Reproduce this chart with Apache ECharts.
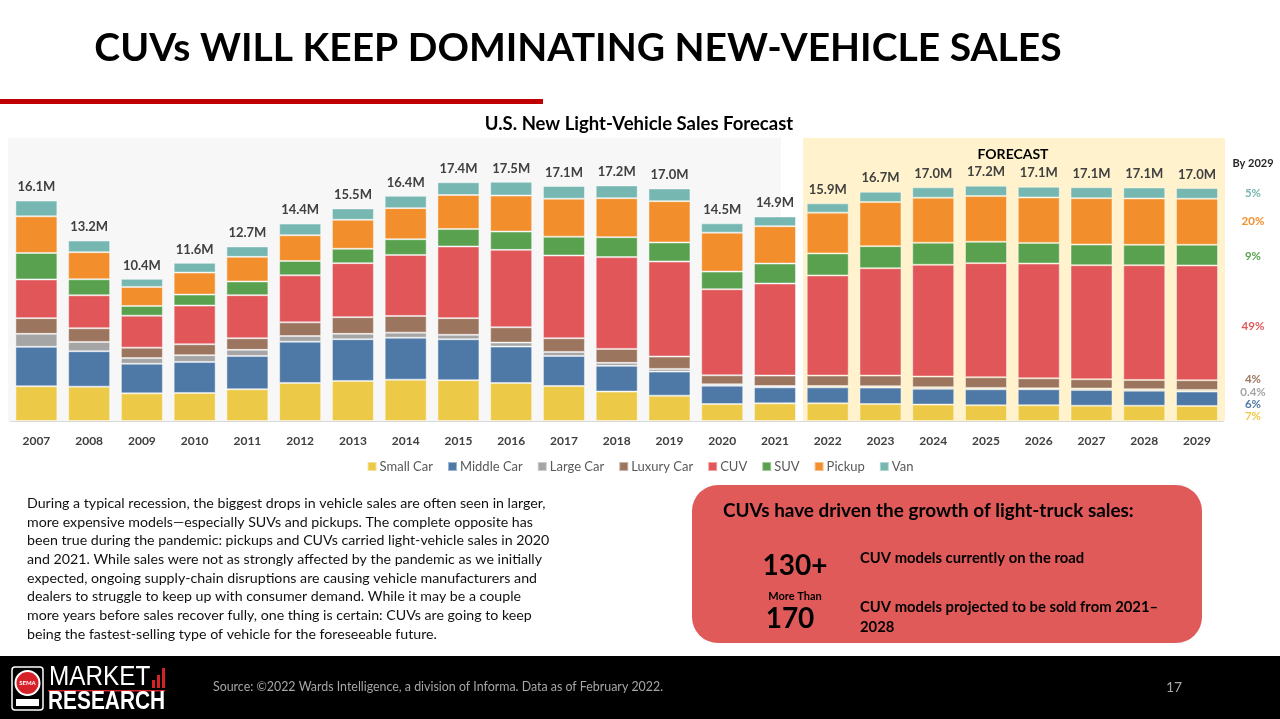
<!DOCTYPE html>
<html>
<head>
<meta charset="utf-8">
<script src="https://cdn.jsdelivr.net/npm/echarts@6/dist/echarts.min.js"></script>
<style>
html,body{margin:0;padding:0;background:#fff;}
#c{width:1280px;height:719px;}
</style>
</head>
<body>
<div id="c"></div>
<script>
const years = ['2007','2008','2009','2010','2011','2012','2013','2014','2015','2016','2017','2018','2019','2020','2021','2022','2023','2024','2025','2026','2027','2028','2029'];
const smallCar  = [2.54,2.51,2.02,2.05,2.32,2.78,2.93,3.02,2.98,2.78,2.56,2.15,1.85,1.24,1.29,1.29,1.24,1.20,1.15,1.15,1.12,1.12,1.10];
const middleCar = [2.88,2.59,2.17,2.27,2.44,3.02,3.05,3.07,3.00,2.66,2.20,1.88,1.76,1.34,1.17,1.17,1.20,1.15,1.17,1.17,1.15,1.10,1.05];
const largeCar  = [0.95,0.68,0.41,0.49,0.44,0.41,0.39,0.37,0.32,0.29,0.29,0.22,0.20,0.10,0.10,0.10,0.10,0.12,0.10,0.07,0.10,0.10,0.12];
const luxuryCar = [1.15,1.00,0.76,0.80,0.85,1.00,1.22,1.22,1.22,1.12,1.00,1.02,0.90,0.66,0.76,0.76,0.78,0.78,0.78,0.73,0.68,0.68,0.71];
const cuv       = [2.83,2.41,2.34,2.83,3.15,3.44,3.95,4.46,5.24,5.66,6.05,6.71,6.95,6.29,6.73,7.32,7.85,8.17,8.34,8.39,8.34,8.39,8.39];
const suv       = [1.93,1.17,0.71,0.80,1.00,1.05,1.05,1.15,1.27,1.34,1.37,1.46,1.39,1.29,1.46,1.61,1.61,1.61,1.56,1.51,1.51,1.49,1.51];
const pickup    = [2.68,1.98,1.39,1.61,1.80,1.88,2.12,2.27,2.49,2.63,2.78,2.85,3.02,2.85,2.73,2.98,3.22,3.29,3.34,3.32,3.39,3.39,3.37];
const van       = [1.15,0.85,0.59,0.71,0.76,0.85,0.83,0.90,0.93,1.00,0.93,0.93,0.93,0.68,0.71,0.68,0.76,0.76,0.76,0.78,0.80,0.80,0.78];
const totals    = ['16.1M','13.2M','10.4M','11.6M','12.7M','14.4M','15.5M','16.4M','17.4M','17.5M','17.1M','17.2M','17.0M','14.5M','14.9M','15.9M','16.7M','17.0M','17.2M','17.1M','17.1M','17.1M','17.0M'];
const seriesNames = ['Small Car','Middle Car','Large Car','Luxury Car','CUV','SUV','Pickup','Van'];
const share2029 = ['7%','6%','0.4%','4%','49%','9%','20%','5%'];

const colors = ['#EDC948','#4E79A7','#A5A5A5','#9C755F','#E15759','#59A14F','#F28E2B','#76B7B2'];
const seriesData = [smallCar,middleCar,largeCar,luxuryCar,cuv,suv,pickup,van];
const F = 'Lato, "Open Sans", sans-serif';

const chart = echarts.init(document.getElementById('c'), null, {renderer:'canvas'});

const series = seriesNames.map((n,i)=>{
  const s = {
    name:n, type:'bar', stack:'total', data:seriesData[i], barWidth:42,
    itemStyle:{color:colors[i], borderColor:'rgba(255,255,255,0.45)', borderWidth:1},
    emphasis:{disabled:true}
  };
  if(i===seriesNames.length-1){
    s.label = {show:true, position:'top', distance:7, formatter:p=>totals[p.dataIndex],
      fontFamily:F, fontWeight:'bold', fontSize:13, color:'#404040'};
  }
  return s;
});

// layout for 2029 share labels (pixel y positions, decoration)
const shareY = [416,404,392,379,326,256,221,193];

const paragraph = [
 'During a typical recession, the biggest drops in vehicle sales are often seen in larger,',
 'more expensive models\u2014especially SUVs and pickups. The complete opposite has',
 'been true during the pandemic: pickups and CUVs carried light-vehicle sales in 2020',
 'and 2021. While sales were not as strongly affected by the pandemic as we initially',
 'expected, ongoing supply-chain disruptions are causing vehicle manufacturers and',
 'dealers to struggle to keep up with consumer demand. While it may be a couple',
 'more years before sales recover fully, one thing is certain: CUVs are going to keep',
 'being the fastest-selling type of vehicle for the foreseeable future.'
].join('\n');

const graphics = [
  // panel backgrounds
  {type:'rect', z:-10, shape:{x:8,y:138,width:773,height:283}, style:{fill:'#F7F7F7'}},
  {type:'rect', z:-10, shape:{x:803,y:138,width:422,height:283}, style:{fill:'#FFF2CC'}},
  // title & red rule
  {type:'text', x:578, y:48, style:{text:'CUVs WILL KEEP DOMINATING NEW-VEHICLE SALES', fontFamily:F, fontWeight:'bold', fontSize:39, fill:'#000', align:'center', verticalAlign:'middle'}},
  {type:'rect', shape:{x:0,y:99,width:543,height:5}, style:{fill:'#C00000'}},
  {type:'text', x:639, y:124, style:{text:'U.S. New Light-Vehicle Sales Forecast', fontFamily:F, fontWeight:'bold', fontSize:18.5, fill:'#000', align:'center', verticalAlign:'middle'}},
  {type:'text', x:1013, y:154, style:{text:'FORECAST', fontFamily:F, fontWeight:'bold', fontSize:14, fill:'#000', align:'center', verticalAlign:'middle'}},
  {type:'text', x:1253, y:163, style:{text:'By 2029', fontFamily:F, fontWeight:'bold', fontSize:11, fill:'#262626', align:'center', verticalAlign:'middle'}},
  // paragraph
  {type:'text', x:27, y:494, style:{text:paragraph, fontFamily:F, fontSize:14.2, lineHeight:18.7, fill:'#111', align:'left', verticalAlign:'top'}},
  // red box
  {type:'rect', shape:{x:692,y:485,width:510,height:158,r:26}, style:{fill:'#E05A5A'}},
  {type:'text', x:723, y:511, style:{text:'CUVs have driven the growth of light-truck sales:', fontFamily:F, fontWeight:'bold', fontSize:18.9, fill:'#000', verticalAlign:'middle'}},
  {type:'text', x:795, y:566, style:{text:'130+', fontFamily:F, fontWeight:'bold', fontSize:28, fill:'#000', align:'center', verticalAlign:'middle'}},
  {type:'text', x:795, y:596, style:{text:'More Than', fontFamily:F, fontWeight:'bold', fontSize:11, fill:'#000', align:'center', verticalAlign:'middle'}},
  {type:'text', x:790, y:619, style:{text:'170', fontFamily:F, fontWeight:'bold', fontSize:28, fill:'#000', align:'center', verticalAlign:'middle'}},
  {type:'text', x:860, y:558, style:{text:'CUV models currently on the road', fontFamily:F, fontWeight:'bold', fontSize:14.8, fill:'#000', verticalAlign:'middle'}},
  {type:'text', x:860, y:607, style:{text:'CUV models projected to be sold from 2021\u2013', fontFamily:F, fontWeight:'bold', fontSize:14.8, fill:'#000', verticalAlign:'middle'}},
  {type:'text', x:860, y:627, style:{text:'2028', fontFamily:F, fontWeight:'bold', fontSize:14.8, fill:'#000', verticalAlign:'middle'}},
  // footer
  {type:'rect', shape:{x:0,y:656,width:1280,height:63}, style:{fill:'#000'}},
  {type:'text', x:213, y:687, style:{text:'Source: \u00a92022 Wards Intelligence, a division of Informa. Data as of February 2022.', fontFamily:F, fontSize:12.4, fill:'#A6A6A6', verticalAlign:'middle'}},
  {type:'text', x:1174, y:687, style:{text:'17', fontFamily:F, fontSize:14, fill:'#A6A6A6', align:'center', verticalAlign:'middle'}},
  // logo
  {type:'rect', shape:{x:12,y:667,width:31,height:43,r:3}, style:{fill:'#000', stroke:'#fff', lineWidth:1.5}},
  {type:'circle', shape:{cx:27.5,cy:683,r:12}, style:{fill:'#D62128', stroke:'#fff', lineWidth:2}},
  {type:'text', x:27.5, y:683, style:{text:'SEMA', fontFamily:F, fontWeight:'bold', fontSize:6, fill:'#fff', align:'center', verticalAlign:'middle'}},
  {type:'rect', shape:{x:16,y:699,width:23,height:7}, style:{fill:'#fff'}},
  {type:'text', x:49, y:678, scaleX:0.9, style:{text:'MARKET', fontFamily:'"Liberation Sans", sans-serif', fontSize:27, fill:'#fff', verticalAlign:'middle'}},
  {type:'rect', shape:{x:152,y:680,width:3,height:8}, style:{fill:'#D62128'}},
  {type:'rect', shape:{x:157,y:675,width:3,height:13}, style:{fill:'#D62128'}},
  {type:'rect', shape:{x:162,y:668,width:3,height:20}, style:{fill:'#D62128'}},
  {type:'rect', shape:{x:48,y:690,width:117,height:1.5}, style:{fill:'#D62128'}},
  {type:'text', x:48, y:702, scaleX:0.835, style:{text:'RESEARCH', fontFamily:'"Liberation Sans", sans-serif', fontWeight:'bold', fontSize:25, fill:'#fff', verticalAlign:'middle'}}
];
share2029.forEach((t,i)=>{
  graphics.push({type:'text', x:1253, y:shareY[i], style:{text:t, fontFamily:F, fontWeight:'bold', fontSize:11.5, fill:colors[i], align:'center', verticalAlign:'middle'}});
});

chart.setOption({
  animation:false,
  backgroundColor:'#fff',
  textStyle:{fontFamily:F},
  grid:{left:10, width:1213.4, top:147.4, bottom:298, containLabel:false},
  legend:{data:seriesNames, top:455, left:'center', itemWidth:9, itemHeight:9, itemGap:14, icon:'rect',
    textStyle:{fontFamily:F, fontSize:13, color:'#595959', padding:[0,0,0,-2]}},
  xAxis:{type:'category', data:years, axisTick:{show:false},
    axisLine:{lineStyle:{color:'#D9D9D9', width:1}},
    axisLabel:{fontFamily:F, fontWeight:'bold', fontSize:12, color:'#404040', margin:14}},
  yAxis:{type:'value', min:0, max:20, show:false, splitLine:{show:false}},
  graphic:graphics,
  series:series
});
</script>
</body>
</html>
